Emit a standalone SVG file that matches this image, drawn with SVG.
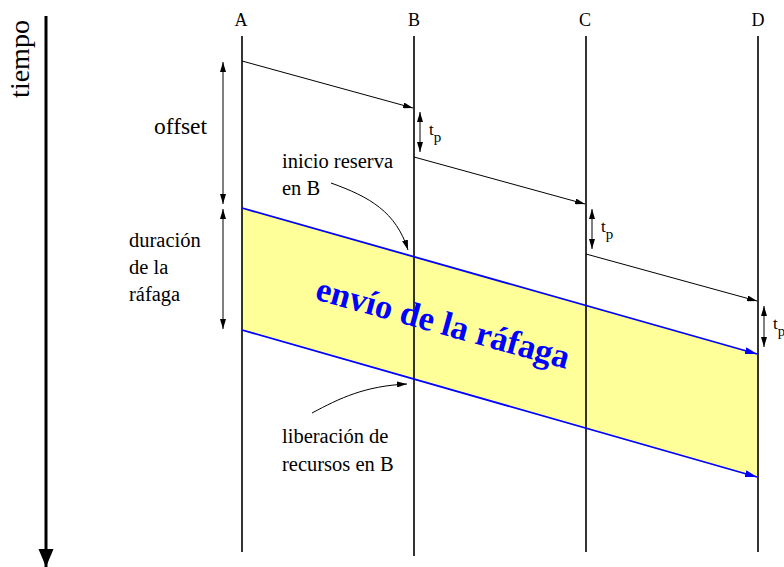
<svg xmlns="http://www.w3.org/2000/svg" width="784" height="567" viewBox="0 0 784 567">
<style>
  .life { stroke: #000; stroke-width: 1.6; fill: none; }
  .msg { stroke: #000; stroke-width: 1; fill: none; marker-end: url(#ah); }
  .dbl { stroke: #000; stroke-width: 1; fill: none; marker-start: url(#ah); marker-end: url(#ah); }
  .burst { stroke: #0000ff; stroke-width: 1.8; fill: none; marker-end: url(#ahb); }
</style>
<defs>
  <marker id="ah" markerUnits="userSpaceOnUse" markerWidth="10" markerHeight="6" refX="10" refY="3" orient="auto-start-reverse">
    <path d="M0,0 L10,3 L0,6 z" fill="#000"/>
  </marker>
  <marker id="ahb" markerUnits="userSpaceOnUse" markerWidth="12" markerHeight="7" refX="12" refY="3.5" orient="auto">
    <path d="M0,0 L12,3.5 L0,7 z" fill="#0000ff"/>
  </marker>
  <marker id="aht" markerUnits="userSpaceOnUse" markerWidth="15" markerHeight="18" refX="18" refY="7.5" orient="auto">
    <path d="M0,0 L18,7.5 L0,15 z" fill="#000"/>
  </marker>
</defs>
<rect width="784" height="567" fill="#fff"/>

<!-- burst band -->
<g id="burst">
  <polygon points="242,208 758,355 758,478 242,330" fill="#ffff99"/>
</g>

<!-- time axis -->
<g id="time-axis" font-family="Liberation Serif, Times New Roman, serif">
  <line x1="46" y1="16" x2="46" y2="567" stroke="#000" stroke-width="3" marker-end="url(#aht)"/>
  <text x="29" y="59" font-size="28" text-anchor="middle" transform="rotate(-90 29 59)">tiempo</text>
</g>

<!-- lifelines -->
<g id="node-A" font-family="Liberation Serif, Times New Roman, serif">
  <line class="life" x1="242" y1="36" x2="242" y2="552"/>
  <text x="241" y="26" font-size="18" text-anchor="middle">A</text>
</g>
<g id="node-B" font-family="Liberation Serif, Times New Roman, serif">
  <line class="life" x1="414" y1="36" x2="414" y2="556"/>
  <text x="414" y="26" font-size="18" text-anchor="middle">B</text>
</g>
<g id="node-C" font-family="Liberation Serif, Times New Roman, serif">
  <line class="life" x1="586" y1="36" x2="586" y2="552"/>
  <text x="585" y="26" font-size="18" text-anchor="middle">C</text>
</g>
<g id="node-D" font-family="Liberation Serif, Times New Roman, serif">
  <line class="life" x1="758" y1="36" x2="758" y2="552"/>
  <text x="758" y="26" font-size="18" text-anchor="middle">D</text>
</g>

<!-- connectors -->
<g id="connectors">
  <line class="msg" x1="242" y1="61" x2="413" y2="108"/>
  <line class="msg" x1="414" y1="157" x2="585" y2="204"/>
  <line class="msg" x1="586" y1="254" x2="757" y2="301"/>
  <line class="dbl" x1="420" y1="112" x2="420" y2="152"/>
  <line class="dbl" x1="592" y1="209" x2="592" y2="249"/>
  <line class="dbl" x1="764" y1="306" x2="764" y2="347"/>
  <line class="dbl" x1="223" y1="62" x2="223" y2="204"/>
  <line class="dbl" x1="223" y1="209" x2="223" y2="329"/>
  <line class="burst" x1="242" y1="208" x2="757" y2="354"/>
  <line class="burst" x1="242" y1="330" x2="757" y2="477"/>
  <path class="msg" d="M331,183 C370,197 396,212 408,250"/>
  <path class="msg" d="M312,413 C340,398 365,386 407,384"/>
</g>

<!-- labels -->
<g id="labels" font-family="Liberation Serif, Times New Roman, serif" fill="#000">
  <text x="154" y="134" font-size="23.5">offset</text>
  <text x="129" y="247" font-size="20.5">duración</text>
  <text x="129" y="274" font-size="20.5">de la</text>
  <text x="129" y="301" font-size="20.5">ráfaga</text>
  <text x="282" y="168" font-size="20.5">inicio reserva</text>
  <text x="282" y="195" font-size="20.5">en B</text>
  <text x="282" y="443" font-size="20.5">liberación de</text>
  <text x="282" y="471" font-size="20.5">recursos en B</text>
  <text x="429" y="135" font-size="17">t<tspan font-size="15" dy="7">p</tspan></text>
  <text x="601" y="232" font-size="17">t<tspan font-size="15" dy="7">p</tspan></text>
  <text x="773" y="329" font-size="17">t<tspan font-size="15" dy="7">p</tspan></text>
  <text x="440" y="334" font-weight="bold" font-size="34.5" fill="#0000ff" text-anchor="middle" transform="rotate(15.5 440 334)">envío de la ráfaga</text>
</g>
</svg>
